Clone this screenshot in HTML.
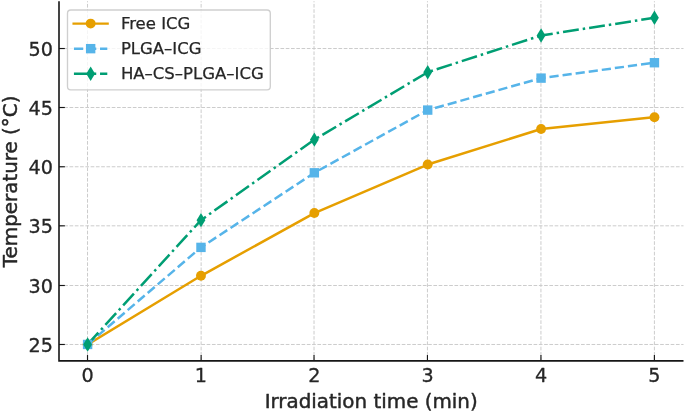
<!DOCTYPE html>
<html lang="en"><head><meta charset="utf-8"><title>Temperature vs irradiation time</title>
<style>html,body{margin:0;padding:0;background:#fff}body{width:685px;height:412px;overflow:hidden}</style></head>
<body>
<svg width="685" height="412" viewBox="0 0 685 412" style="display:block">
<rect width="685" height="412" fill="#ffffff"/>
<g stroke="#cccccc" stroke-width="1.0" stroke-dasharray="3.681 1.592" fill="none">
<line x1="87.52" y1="360.9" x2="87.52" y2="1.2"/>
<line x1="201.13" y1="360.9" x2="201.13" y2="1.2"/>
<line x1="314.03" y1="360.9" x2="314.03" y2="1.2"/>
<line x1="427.45" y1="360.9" x2="427.45" y2="1.2"/>
<line x1="540.95" y1="360.9" x2="540.95" y2="1.2"/>
<line x1="654.40" y1="360.9" x2="654.40" y2="1.2"/>
<line x1="59.0" y1="344.48" x2="683.5" y2="344.48"/>
<line x1="59.0" y1="285.50" x2="683.5" y2="285.50"/>
<line x1="59.0" y1="225.82" x2="683.5" y2="225.82"/>
<line x1="59.0" y1="166.76" x2="683.5" y2="166.76"/>
<line x1="59.0" y1="107.50" x2="683.5" y2="107.50"/>
<line x1="59.0" y1="48.52" x2="683.5" y2="48.52"/>
</g>
<polyline points="87.60,344.45 200.97,275.80 314.34,213.06 427.71,164.53 541.08,129.02 654.45,117.18" fill="none" stroke="#E69F00" stroke-width="2.49" stroke-linejoin="round" stroke-linecap="square"/>
<polyline points="87.60,344.45 200.97,247.39 314.34,172.81 427.71,110.08 541.08,78.12 654.45,62.73" fill="none" stroke="#56B4E9" stroke-width="2.49" stroke-dasharray="9.21 3.98" stroke-linejoin="round"/>
<polyline points="87.60,344.45 200.97,220.16 314.34,139.67 427.71,72.20 541.08,35.50 654.45,17.75" fill="none" stroke="#009E73" stroke-width="2.49" stroke-dasharray="15.94 3.98 2.49 3.98" stroke-linejoin="round"/>
<circle cx="87.60" cy="344.45" r="4.95" fill="#E69F00"/>
<circle cx="200.97" cy="275.80" r="4.95" fill="#E69F00"/>
<circle cx="314.34" cy="213.06" r="4.95" fill="#E69F00"/>
<circle cx="427.71" cy="164.53" r="4.95" fill="#E69F00"/>
<circle cx="541.08" cy="129.02" r="4.95" fill="#E69F00"/>
<circle cx="654.45" cy="117.18" r="4.95" fill="#E69F00"/>
<rect x="82.90" y="339.75" width="9.40" height="9.40" fill="#56B4E9"/>
<rect x="196.27" y="242.69" width="9.40" height="9.40" fill="#56B4E9"/>
<rect x="309.64" y="168.11" width="9.40" height="9.40" fill="#56B4E9"/>
<rect x="423.01" y="105.38" width="9.40" height="9.40" fill="#56B4E9"/>
<rect x="536.38" y="73.42" width="9.40" height="9.40" fill="#56B4E9"/>
<rect x="649.75" y="58.03" width="9.40" height="9.40" fill="#56B4E9"/>
<path d="M87.60 337.25 L92.00 344.45 L87.60 351.65 L83.20 344.45 Z" fill="#009E73"/>
<path d="M200.97 212.96 L205.37 220.16 L200.97 227.36 L196.57 220.16 Z" fill="#009E73"/>
<path d="M314.34 132.47 L318.74 139.67 L314.34 146.87 L309.94 139.67 Z" fill="#009E73"/>
<path d="M427.71 65.00 L432.11 72.20 L427.71 79.40 L423.31 72.20 Z" fill="#009E73"/>
<path d="M541.08 28.30 L545.48 35.50 L541.08 42.70 L536.68 35.50 Z" fill="#009E73"/>
<path d="M654.45 10.55 L658.85 17.75 L654.45 24.95 L650.05 17.75 Z" fill="#009E73"/>
<g stroke="#161616" stroke-width="1.6" fill="none" stroke-linecap="butt">
<polyline points="59.0,1.2 59.0,360.9 683.5,360.9" stroke-linejoin="miter"/>
</g>
<g stroke="#161616" stroke-width="1.15" fill="none">
<line x1="87.52" y1="360.9" x2="87.52" y2="355.04999999999995"/>
<line x1="201.13" y1="360.9" x2="201.13" y2="355.04999999999995"/>
<line x1="314.03" y1="360.9" x2="314.03" y2="355.04999999999995"/>
<line x1="427.45" y1="360.9" x2="427.45" y2="355.04999999999995"/>
<line x1="540.95" y1="360.9" x2="540.95" y2="355.04999999999995"/>
<line x1="654.40" y1="360.9" x2="654.40" y2="355.04999999999995"/>
<line x1="59.0" y1="344.48" x2="64.85" y2="344.48"/>
<line x1="59.0" y1="285.50" x2="64.85" y2="285.50"/>
<line x1="59.0" y1="225.82" x2="64.85" y2="225.82"/>
<line x1="59.0" y1="166.76" x2="64.85" y2="166.76"/>
<line x1="59.0" y1="107.50" x2="64.85" y2="107.50"/>
<line x1="59.0" y1="48.52" x2="64.85" y2="48.52"/>
</g>
<g font-family="'DejaVu Sans', 'Liberation Sans', sans-serif" font-size="19.2" fill="#262626" stroke="#262626" stroke-width="0.3" stroke-linejoin="round">
<text x="87.60" y="382.2" text-anchor="middle">0</text>
<text x="200.97" y="382.2" text-anchor="middle">1</text>
<text x="314.34" y="382.2" text-anchor="middle">2</text>
<text x="427.71" y="382.2" text-anchor="middle">3</text>
<text x="541.08" y="382.2" text-anchor="middle">4</text>
<text x="654.45" y="382.2" text-anchor="middle">5</text>
<text x="53.0" y="351.88" text-anchor="end">25</text>
<text x="53.0" y="292.90" text-anchor="end">30</text>
<text x="53.0" y="233.22" text-anchor="end">35</text>
<text x="53.0" y="174.16" text-anchor="end">40</text>
<text x="53.0" y="114.90" text-anchor="end">45</text>
<text x="53.0" y="55.92" text-anchor="end">50</text>
<text x="371.2" y="408.2" font-size="19.9" stroke-width="0.45" text-anchor="middle">Irradiation time (min)</text>
<text transform="translate(17.0 181.4) rotate(-90)" font-size="19.9" stroke-width="0.45" text-anchor="middle">Temperature (°C)</text>
</g>
<rect x="67.5" y="10.0" width="202.80" height="79.80" rx="3.3" ry="3.3" fill="#ffffff" fill-opacity="0.8" stroke="#cccccc" stroke-opacity="0.95" stroke-width="1.35"/>
<line x1="72.45" y1="23.62" x2="108.8" y2="23.62" stroke="#E69F00" stroke-width="2.49"/>
<line x1="73.93" y1="48.66" x2="107.3" y2="48.66" stroke="#56B4E9" stroke-width="2.49" stroke-dasharray="9.29 3.76"/>
<line x1="73.93" y1="73.72" x2="107.3" y2="73.72" stroke="#009E73" stroke-width="2.49" stroke-dasharray="16 3.8 2.5 3.8"/>
<circle cx="90.65" cy="23.62" r="4.95" fill="#E69F00"/>
<rect x="85.95" y="43.96" width="9.40" height="9.40" fill="#56B4E9"/>
<path d="M90.65 66.52 L95.05 73.72 L90.65 80.92 L86.25 73.72 Z" fill="#009E73"/>
<g font-family="'DejaVu Sans', 'Liberation Sans', sans-serif" font-size="16.5" fill="#262626" stroke="#262626" stroke-width="0.25" stroke-linejoin="round">
<text x="120.9" y="28.62">Free ICG</text>
<text x="120.9" y="53.66">PLGA–ICG</text>
<text x="120.9" y="78.72">HA–CS–PLGA–ICG</text>
</g>
</svg>
</body></html>
